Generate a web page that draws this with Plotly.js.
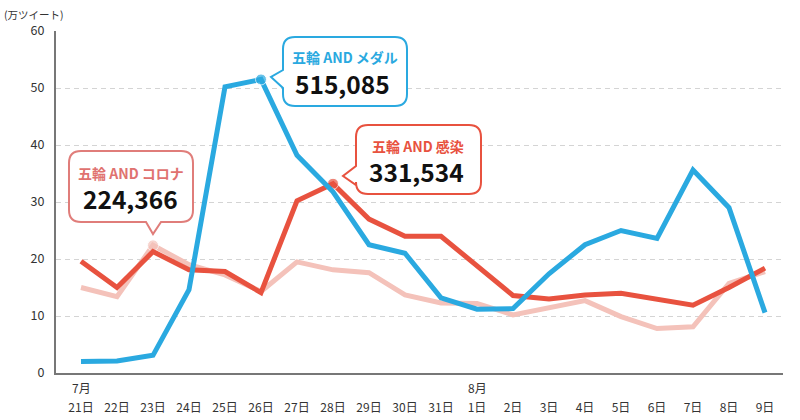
<!DOCTYPE html>
<html>
<head>
<meta charset="utf-8">
<script src="https://cdn.plot.ly/plotly-3.0.1.min.js"></script>
<style>html,body{margin:0;padding:0;background:#fff;}#chart{width:800px;height:420px;}</style>
</head>
<body>
<div id="chart"></div>
<script>
// ---- data ----
const days = ["21日","22日","23日","24日","25日","26日","27日","28日","29日","30日","31日","1日","2日","3日","4日","5日","6日","7日","8日","9日"];
const monthLabels = ["7月","8月"];
const monthIdx = [0, 11];
const medal  = [2.0, 2.1, 3.1, 14.6, 50.2, 51.5, 38.2, 31.8, 22.5, 21.0, 13.2, 11.2, 11.3, 17.4, 22.5, 25.0, 23.6, 35.6, 29.0, 10.6];
const infect = [19.6, 15.0, 21.3, 18.1, 17.8, 14.1, 30.2, 33.2, 27.0, 24.0, 24.0, 18.9, 13.6, 13.0, 13.7, 14.0, 13.0, 11.9, 15.0, 18.4];
const corona = [15.0, 13.4, 22.4, 19.0, 17.2, 14.3, 19.5, 18.1, 17.6, 13.7, 12.3, 12.2, 10.2, 11.5, 12.7, 9.9, 7.8, 8.1, 15.7, 17.8];
const seriesNames = ["五輪 AND メダル", "五輪 AND 感染", "五輪 AND コロナ"];
const peakValues = ["515,085", "331,534", "224,366"];
const peakIdx = [5, 7, 2];
const yTicks = [0, 10, 20, 30, 40, 50, 60];
const yUnit = "(万ツイート)";

// ---- style ----
const FONT = "'Noto Sans CJK JP', 'Noto Sans', sans-serif";
const cBlue = "#2aa9e0", cRed = "#e8523f", cPink = "#f4c2ba", cPinkBorder = "#e07d7a", cPinkText = "#e07270";

// plot area in pixels
const PL = 56, PR = 783, PT = 31, PB = 373;
const px2x = p => (p - PL) / (PR - PL);
const py2y = p => (PB - p) / (PB - PT);

function bubble(L, R, T, B, notch, r) {
  const P = (x, y) => px2x(x).toFixed(5) + "," + py2y(y).toFixed(5);
  let d = "M" + P(L + r, T) + " L" + P(R - r, T) + " Q" + P(R, T) + " " + P(R, T + r) +
          " L" + P(R, B - r) + " Q" + P(R, B) + " " + P(R - r, B);
  if (notch.side === "bottom") {
    d += " L" + P(notch.b, B) + " L" + P(notch.tx, notch.ty) + " L" + P(notch.a, B);
  }
  d += " L" + P(L + r, B) + " Q" + P(L, B) + " " + P(L, B - r);
  if (notch.side === "left") {
    d += " L" + P(L, notch.b) + " L" + P(notch.tx, notch.ty) + " L" + P(L, notch.a);
  }
  d += " L" + P(L, T + r) + " Q" + P(L, T) + " " + P(L + r, T) + " Z";
  return d;
}

function mk(vals, color, idx) {
  return {
    x: days.map((_, i) => i), y: vals, type: "scatter", mode: "lines+markers",
    line: {color: color, width: 5},
    marker: {color: color, size: vals.map((_, i) => i === idx ? 11 : 0)},
    hoverinfo: "skip", cliponaxis: false
  };
}

const data = [mk(corona, cPink, peakIdx[2]), mk(infect, cRed, peakIdx[1]), mk(medal, cBlue, peakIdx[0])];

const shapes = [
  {type: "path", xref: "paper", yref: "paper", path: bubble(283, 407, 37, 106, {side: "left", a: 70, b: 88, tx: 271, ty: 77}, 12),
   line: {color: cBlue, width: 2}, fillcolor: "#fff", layer: "above"},
  {type: "path", xref: "paper", yref: "paper", path: bubble(356, 481, 125, 194, {side: "left", a: 166, b: 185, tx: 343, ty: 176}, 12),
   line: {color: cRed, width: 2}, fillcolor: "#fff", layer: "above"},
  {type: "path", xref: "paper", yref: "paper", path: bubble(69, 193, 151, 222, {side: "bottom", a: 146, b: 161, tx: 153, ty: 234}, 12),
   line: {color: cPinkBorder, width: 2}, fillcolor: "#fff", layer: "above"}
];

function ann(text, cx, cy, size, color, bold) {
  return {text: bold ? "<b>" + text + "</b>" : text, xref: "paper", yref: "paper", x: px2x(cx), y: py2y(cy),
          xanchor: "center", yanchor: "middle", showarrow: false, borderpad: 0,
          font: {family: FONT, size: size, color: color}};
}

const annotations = [
  ann(seriesNames[0], 345, 57.5, 14, cBlue, true),
  ann(peakValues[0], 342, 84, 24.5, "#111", true),
  ann(seriesNames[1], 418, 145.5, 14, cRed, true),
  ann(peakValues[1], 416, 171, 24.5, "#111", true),
  ann(seriesNames[2], 131, 172.5, 14, cPinkText, true),
  ann(peakValues[2], 130, 198, 24.5, "#111", true),
  {text: yUnit, xref: "paper", yref: "paper", x: px2x(3), y: py2y(14.5), xanchor: "left", yanchor: "middle",
   showarrow: false, borderpad: 0, font: {family: FONT, size: 10.5, color: "#333"}}
];
monthLabels.forEach((m, k) => annotations.push({
  text: m, xref: "x", x: monthIdx[k], yref: "paper", y: py2y(388), xanchor: "center", yanchor: "middle",
  showarrow: false, borderpad: 0, font: {family: FONT, size: 12, color: "#333"}
}));

const layout = {
  width: 800, height: 420,
  margin: {l: PL, r: 800 - PR, t: PT, b: 420 - PB, pad: 0},
  paper_bgcolor: "#fff", plot_bgcolor: "#fff",
  showlegend: false, hovermode: false,
  font: {family: FONT, color: "#333", size: 12},
  xaxis: {
    range: [(PL - 81) / 36, (PR - 81) / 36], tickvals: days.map((_, i) => i), ticktext: days,
    showgrid: false, zeroline: false, showline: true, linecolor: "#777", linewidth: 2,
    ticks: "", ticklabelstandoff: 23, tickfont: {family: FONT, size: 12, color: "#333"}, fixedrange: true
  },
  yaxis: {
    range: [0, 60], tickvals: yTicks, ticktext: yTicks.map(String),
    showgrid: true, gridcolor: "#d4d4d4", gridwidth: 1, griddash: "5px,4px",
    zeroline: false, showline: true, linecolor: "#777", linewidth: 2,
    ticks: "", ticklabelstandoff: 7, tickfont: {family: FONT, size: 12.5, color: "#333"}, fixedrange: true
  },
  shapes: shapes,
  annotations: annotations
};

Plotly.newPlot("chart", data, layout, {displayModeBar: false, staticPlot: true});
</script>
</body>
</html>
